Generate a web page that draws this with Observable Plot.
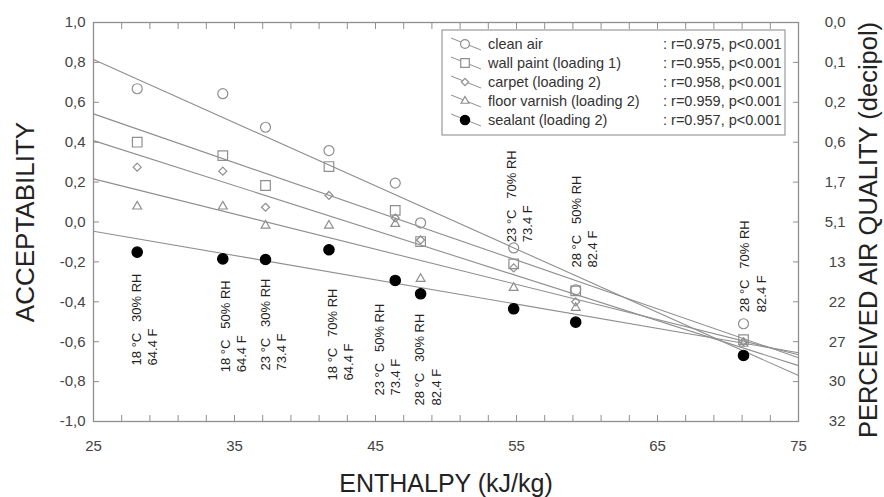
<!DOCTYPE html>
<html><head><meta charset="utf-8">
<script src="https://cdn.jsdelivr.net/npm/d3@7"></script>
<script src="https://cdn.jsdelivr.net/npm/@observablehq/plot@0.6"></script>
<style>
body{margin:0;background:#fff;}
#chart svg{display:block;}
</style></head><body><div id="chart"></div>
<script>
// ---- data ----
const enthalpy = [28.1, 34.17, 37.2, 41.7, 46.4, 48.2, 54.8, 59.2, 71.1];
const seriesNames = ["clean air", "wall paint (loading 1)", "carpet (loading 2)", "floor varnish (loading 2)", "sealant (loading 2)"];
const seriesStats = [": r=0.975, p<0.001", ": r=0.955, p<0.001", ": r=0.958, p<0.001", ": r=0.959, p<0.001", ": r=0.957, p<0.001"];
const cleanAir     = [0.668, 0.643, 0.475, 0.358, 0.195, -0.004, -0.13, -0.34, -0.51];
const wallPaint    = [0.400, 0.333, 0.183, 0.278, 0.058, -0.098, -0.21, -0.345, -0.59];
const carpet       = [0.275, 0.255, 0.074, 0.133, 0.020, -0.090, -0.23, -0.40, -0.60];
const floorVarnish = [0.078, 0.078, -0.018, -0.018, -0.009, -0.285, -0.33, -0.43, -0.61];
const sealant      = [-0.151, -0.185, -0.188, -0.139, -0.293, -0.36, -0.435, -0.502, -0.669];
// regression lines: acceptability at enthalpy 25 and 75
const fitFrom = 25, fitTo = 75;
const fitStart = [0.815, 0.542, 0.408, 0.216, -0.046];
const fitEnd   = [-0.77, -0.68, -0.72, -0.665, -0.655];
// condition annotations
const annEnthalpy = [28.58, 34.89, 37.73, 42.45, 45.78, 48.67, 55.16, 59.79, 71.72];
const annAcceptability = [-0.719, -0.753, -0.744, -0.794, -0.870, -0.920, -0.101, -0.228, -0.452];
const annLabels = [
  "18 °C\u00a0\u00a0\u00a030% RH\n64.4 F",
  "18 °C\u00a0\u00a0\u00a050% RH\n64.4 F",
  "23 °C\u00a0\u00a0\u00a030% RH\n73.4 F",
  "18 °C\u00a0\u00a0\u00a070% RH\n64.4 F",
  "23 °C\u00a0\u00a0\u00a050% RH\n73.4 F",
  "28 °C\u00a0\u00a0\u00a030% RH\n82.4 F",
  "23 °C\u00a0\u00a0\u00a070% RH\n73.4 F",
  "28 °C\u00a0\u00a0\u00a050% RH\n82.4 F",
  "28 °C\u00a0\u00a0\u00a070% RH\n82.4 F"
];
// axes
const yTicks = [-1, -0.8, -0.6, -0.4, -0.2, 0, 0.2, 0.4, 0.6, 0.8, 1];
const decipolLabels = ["32", "30", "27", "22", "13", "5,1", "1,7", "0,6", "0,2", "0,1", "0,0"];
const xLabelTicks = [25, 35, 45, 55, 65, 75];
const xMinorTicks = [25, 27, 29, 31, 33, 35, 37, 39, 41, 43, 45, 47, 49, 51, 53, 55, 57, 59, 61, 63, 65, 67, 69, 71, 73, 75];

// ---- styles ----
const symbols = ["circle", "square", "diamond2", "triangle2", "circle"];
const symbolR = [5, 5.4, 3.6, 4.2, 5.2];
const gray = "#8f8f8f";
const seriesValues = [cleanAir, wallPaint, carpet, floorVarnish, sealant];

const points = seriesNames.flatMap((s, i) => enthalpy.map((h, j) => ({s, i, h, v: seriesValues[i][j]})));
const fits = seriesNames.map((s, i) => ({s, a: fitStart[i], b: fitEnd[i]}));
const anns = annLabels.map((t, i) => ({t, h: annEnthalpy[i], v: annAcceptability[i]}));

const fmtLeft = d => (d < -1e-9 ? "-" : "") + Math.abs(d).toFixed(1).replace(".", ",");
const fmtRight = d => decipolLabels[yTicks.findIndex(t => Math.abs(t - d) < 1e-6)];

const font = "'Liberation Sans', Arial, Helvetica, sans-serif";

const dotMarks = seriesNames.map((s, i) => Plot.dot(points.filter(p => p.i === i), {
  x: "h", y: "v", symbol: symbols[i], r: symbolR[i],
  stroke: i === 4 ? "black" : gray, fill: i === 4 ? "black" : "none", strokeWidth: 1.2
}));

const chart = Plot.plot({
  width: 884, height: 497,
  marginLeft: 93, marginRight: 86, marginTop: 22, marginBottom: 76,
  style: {fontFamily: font, fontSize: "15px", color: "#444", background: "white"},
  x: {domain: [25, 75]},
  y: {domain: [-1, 1]},
  marks: [
    Plot.frame({stroke: gray, strokeWidth: 1.3}),
    // ticks (inward)
    Plot.axisX({anchor: "bottom", ticks: xMinorTicks, tickSize: 6, dy: -6, text: null, label: null, stroke: gray}),
    Plot.axisX({anchor: "top", ticks: xMinorTicks, tickSize: 6, dy: 6, text: null, label: null, stroke: gray}),
    Plot.axisY({anchor: "left", ticks: yTicks, tickSize: 6, dx: 6, text: null, label: null, stroke: gray}),
    Plot.axisY({anchor: "right", ticks: yTicks, tickSize: 6, dx: -6, text: null, label: null, stroke: gray}),
    // labels
    Plot.axisX({anchor: "bottom", ticks: xLabelTicks, tickSize: 0, tickPadding: 19, tickFormat: d => String(d), label: null}),
    Plot.axisY({anchor: "left", ticks: yTicks, tickSize: 0, tickPadding: 8, tickFormat: fmtLeft, label: null}),
    Plot.axisY({anchor: "right", ticks: yTicks, tickSize: 0, tickPadding: 47, textAnchor: "end", tickFormat: fmtRight, label: null}),
    // regression lines
    Plot.link(fits, {x1: () => fitFrom, x2: () => fitTo, y1: "a", y2: "b", stroke: gray, strokeWidth: 1.1}),
    ...dotMarks,
    // annotations
    Plot.text(anns, {x: "h", y: "v", text: "t", rotate: -90, textAnchor: "start", fontSize: 13, lineHeight: 1.25, fill: "#222"}),
    // axis titles
    Plot.text(["ACCEPTABILITY"], {text: d => d, frameAnchor: "left", dx: -68, rotate: -90, textAnchor: "middle", lineAnchor: "middle", fontSize: 26, fill: "#222"}),
    Plot.text(["PERCEIVED AIR QUALITY (decipol)"], {text: d => d, frameAnchor: "right", dx: 70, dy: 8, rotate: -90, textAnchor: "middle", lineAnchor: "middle", fontSize: 25.5, fill: "#222"}),
    Plot.text(["ENTHALPY (kJ/kg)"], {text: d => d, frameAnchor: "bottom", dy: 62, textAnchor: "middle", lineAnchor: "middle", fontSize: 25, fill: "#222"})
  ]
});
document.getElementById("chart").append(chart);

// ---- legend box inside plot area ----
const svg = d3.select(chart);
const lg = svg.append("g").attr("font-family", font).attr("font-size", 14.5).attr("fill", "#333").attr("text-anchor", "start");
lg.append("rect").attr("x", 442).attr("y", 30).attr("width", 343).attr("height", 105)
  .attr("fill", "white").attr("stroke", "#9a9a9a").attr("stroke-width", 1.2);
const d3sym = {circle: d3.symbolCircle, square: d3.symbolSquare, diamond2: d3.symbolDiamond2, triangle2: d3.symbolTriangle2};
seriesNames.forEach((name, i) => {
  const y = 44 + i * 19;
  lg.append("line").attr("x1", 451).attr("y1", y - 6).attr("x2", 481).attr("y2", y + 6)
    .attr("stroke", gray).attr("stroke-width", 1);
  lg.append("path").attr("transform", `translate(465,${y})`)
    .attr("d", d3.symbol(d3sym[symbols[i]], Math.PI * symbolR[i] * symbolR[i] * 0.8)())
    .attr("fill", i === 4 ? "black" : "white").attr("stroke", i === 4 ? "black" : gray).attr("stroke-width", 1.2);
  lg.append("text").attr("x", 488).attr("y", y).attr("dy", "0.35em").attr("text-anchor", "start").text(name);
  lg.append("text").attr("x", 663).attr("y", y).attr("dy", "0.35em").attr("text-anchor", "start").text(seriesStats[i]);
});
</script></body></html>
